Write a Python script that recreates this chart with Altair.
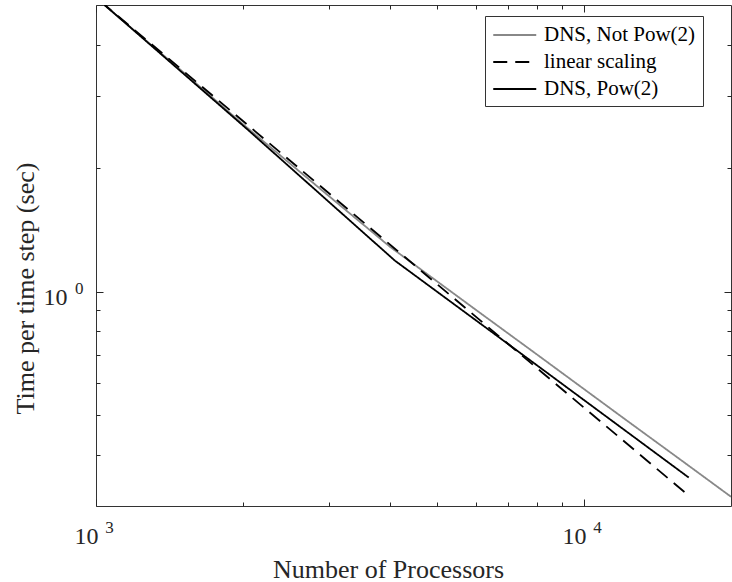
import altair as alt
import pandas as pd

# Time per step for power-of-two processor counts, and ideal linear scaling from 1024 procs
pow2_procs = [1024, 2048, 4096, 8192, 16384]
pow2_time = [5.09, 2.48, 1.19, 0.648, 0.352]
linear_time = [5.09, 2.545, 1.2725, 0.636, 0.318]

# Runs on processor counts that are not powers of two
other_procs = [1000, 1500, 2000, 3000, 4000, 6000, 8000, 12000, 16000, 20000]
other_time = [5.20, 3.45, 2.56, 1.71, 1.287, 0.903, 0.703, 0.493, 0.384, 0.316]

series_names = ["DNS, Not Pow(2)", "linear scaling", "DNS, Pow(2)"]
series_colors = ["#888888", "#000000", "#000000"]
series_dashes = [[1, 0], [14, 8], [1, 0]]

# Decade and minor tick positions on the log axes
x_major = [1000, 10000]
x_minor = [2000, 3000, 4000, 5000, 6000, 7000, 8000, 9000]
y_major = [1]
y_minor = [0.4, 0.5, 0.6, 0.7, 0.8, 0.9, 2, 3, 4]

W, H = 635, 501
FONT = "Liberation Serif"
INK = "#262626"

df = pd.concat([
    pd.DataFrame({"procs": other_procs, "time": other_time, "series": series_names[0]}),
    pd.DataFrame({"procs": pow2_procs, "time": linear_time, "series": series_names[1]}),
    pd.DataFrame({"procs": pow2_procs, "time": pow2_time, "series": series_names[2]}),
], ignore_index=True)

xs = alt.Scale(type="log", domain=[1000, 20000], nice=False)
ys = alt.Scale(type="log", domain=[0.3, 5], nice=False)

# legend swatch: a horizontal line starting at the entry's left edge
color = alt.Color(
    "series:N",
    scale=alt.Scale(domain=series_names, range=series_colors),
    legend=alt.Legend(
        orient="none", legendX=389, legendY=11, title=None,
        labelFont=FONT, labelFontSize=21, labelColor="#000000", labelLimit=400,
        labelOffset=28, symbolType="M-1,0H3", symbolSize=462, symbolStrokeWidth=2,
        strokeColor="#333333", fillColor="#ffffff", padding=7, rowPadding=5,
        cornerRadius=0,
    ),
)
dash = alt.StrokeDash("series:N", scale=alt.Scale(domain=series_names, range=series_dashes))

exp_expr = "round(log(datum.value) / LN10)"


def no_label_axis(**kw):
    return alt.Axis(labels=False, domain=False, grid=False, title=None,
                    tickColor=INK, tickWidth=1, **kw)


# mantissa labels "10" and axis titles
x_base = alt.Axis(orient="bottom", values=x_major, labelExpr="'10'", ticks=False, tickSize=0,
                  domain=False, grid=False, labelFont=FONT, labelFontSize=24, labelColor=INK,
                  labelPadding=37, labelBaseline="alphabetic", labelOffset=-10, labelFlush=False,
                  labelOverlap=False, title="Number of Processors", titleFont=FONT,
                  titleFontSize=26, titleFontWeight="normal", titleColor=INK,
                  titleX=292, titleY=71, titleAlign="center", titleBaseline="alphabetic")
y_base = alt.Axis(orient="left", values=y_major, labelExpr="'10'", ticks=False, tickSize=0,
                  domain=False, grid=False, labelFont=FONT, labelFontSize=24, labelColor=INK,
                  labelPadding=29, labelAlign="right", labelBaseline="alphabetic", labelOffset=13,
                  labelFlush=False, labelOverlap=False, title="Time per time step (sec)",
                  titleFont=FONT, titleFontSize=26, titleFontWeight="normal", titleColor=INK,
                  titleX=-71, titleY=283, titleAngle=270, titleAlign="center",
                  titleBaseline="middle")

# raised exponents
x_exp = alt.Axis(orient="bottom", values=x_major, labelExpr=exp_expr, ticks=False, tickSize=0,
                 domain=False, grid=False, labelFont=FONT, labelFontSize=17, labelColor=INK,
                 labelPadding=26, labelBaseline="alphabetic", labelOffset=13, labelFlush=False,
                 labelOverlap=False, title=None)
y_exp = alt.Axis(orient="left", values=y_major, labelExpr=exp_expr, ticks=False, tickSize=0,
                 domain=False, grid=False, labelFont=FONT, labelFontSize=17, labelColor=INK,
                 labelPadding=13, labelAlign="right", labelBaseline="alphabetic", labelOffset=2,
                 labelFlush=False, labelOverlap=False, title=None)


def series_layer(name, x_axis, y_axis):
    return alt.Chart(df).transform_filter(alt.datum.series == name).mark_line(
        clip=True, strokeWidth=1.8
    ).encode(
        x=alt.X("procs:Q", scale=xs, axis=x_axis),
        y=alt.Y("time:Q", scale=ys, axis=y_axis),
        color=color,
        strokeDash=dash,
        order=alt.Order("procs:Q"),
    )


def tick_layer(x_axis, y_axis):
    return alt.Chart(df).mark_point(opacity=0, clip=True).encode(
        x=alt.X("procs:Q", scale=xs, axis=x_axis),
        y=alt.Y("time:Q", scale=ys, axis=y_axis),
    )


# inward-pointing ticks on all four sides: axes on the opposite edge, offset across the plot
layers = [
    series_layer(series_names[0], x_base, y_base),
    series_layer(series_names[1], x_exp, y_exp),
    series_layer(series_names[2],
                 no_label_axis(orient="top", offset=-H, values=x_major, tickSize=7),
                 no_label_axis(orient="right", offset=-W, values=y_major, tickSize=7)),
    tick_layer(no_label_axis(orient="top", offset=-H, values=x_minor, tickSize=4),
               no_label_axis(orient="right", offset=-W, values=y_minor, tickSize=4)),
    tick_layer(no_label_axis(orient="bottom", offset=-H, values=x_major, tickSize=7),
               no_label_axis(orient="left", offset=-W, values=y_major, tickSize=7)),
    tick_layer(no_label_axis(orient="bottom", offset=-H, values=x_minor, tickSize=4),
               no_label_axis(orient="left", offset=-W, values=y_minor, tickSize=4)),
]

chart = alt.layer(*layers).resolve_axis(
    x="independent", y="independent"
).properties(
    width=W, height=H,
    padding={"left": 96, "top": 5, "right": 1, "bottom": 76},
    autosize=alt.AutoSizeParams(type="none"),
    background="#ffffff",
).configure(font=FONT).configure_view(stroke="#333333", strokeWidth=1)

chart.save("out.html", embed_options={"renderer": "svg", "actions": False})
